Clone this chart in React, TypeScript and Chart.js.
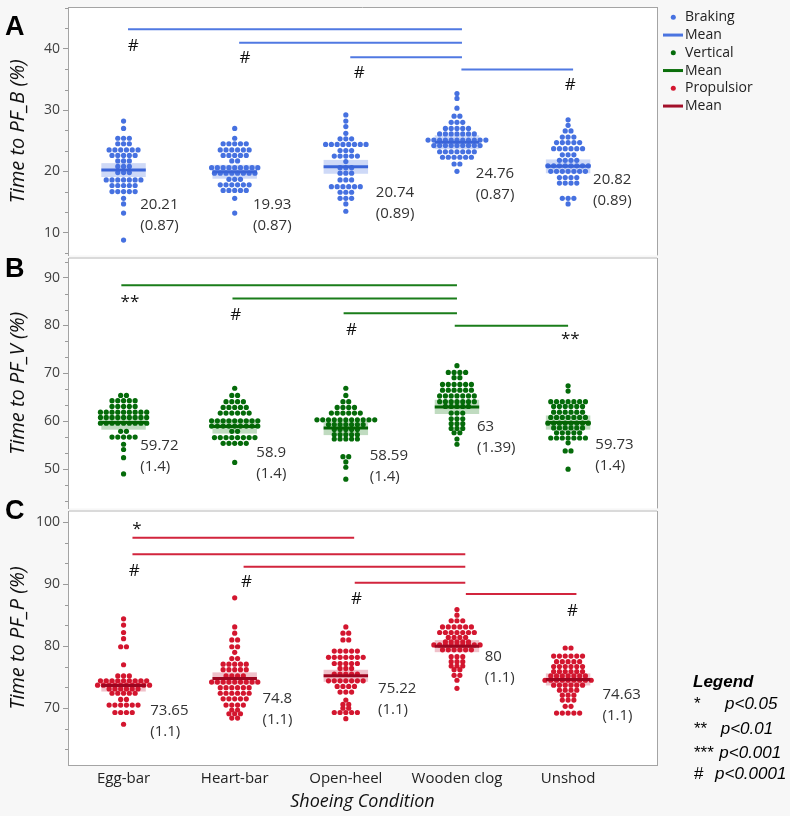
import React, { useEffect, useRef } from 'react';
import { Chart, registerables } from 'chart.js';

Chart.register(...registerables);

type Row = [number, number]; // [value, number of dots in that swarm row]
type Sig = [number, number, number]; // [from category, to category, bar level]
type Mark = [string, number, number]; // [symbol, x (category units), baseline value]

// ---------------- DATA ----------------
const categories = ['Egg-bar', 'Heart-bar', 'Open-heel', 'Wooden clog', 'Unshod'];

// Panel A – Braking: time to peak braking force (%)
const brakingRows: Row[][] = [
  [[28.2, 1], [27.0, 1], [25.4, 3], [24.5, 3], [23.5, 6], [22.6, 5], [21.7, 3], [20.8, 3], [19.8, 3], [18.6, 7], [17.7, 5], [16.7, 5], [15.6, 1], [14.7, 1], [13.2, 1], [8.8, 1]],
  [[27.0, 1], [25.4, 1], [24.5, 5], [23.5, 6], [22.6, 5], [21.7, 2], [20.6, 9], [19.7, 8], [18.7, 3], [17.8, 6], [16.9, 5], [15.6, 1], [13.2, 1]],
  [[29.2, 1], [28.2, 1], [27.3, 1], [26.2, 1], [25.3, 3], [24.4, 8], [23.4, 3], [22.5, 5], [21.6, 1], [20.6, 3], [19.7, 3], [18.6, 3], [17.5, 6], [16.6, 3], [15.6, 3], [14.7, 1], [13.5, 1]],
  [[32.7, 1], [31.9, 1], [30.3, 1], [29.0, 2], [28.0, 3], [27.0, 5], [26.1, 7], [25.1, 11], [24.2, 9], [23.2, 7], [22.3, 6], [21.2, 2], [20.0, 1]],
  [[28.4, 1], [27.5, 1], [26.6, 2], [25.6, 3], [24.7, 5], [23.7, 6], [22.7, 3], [21.8, 4], [20.9, 8], [20.0, 7], [19.0, 4], [18.1, 4], [15.6, 3], [14.7, 1]],
];
const brakingMean = [20.21, 19.93, 20.74, 24.76, 20.82];
const brakingSE = [0.87, 0.87, 0.89, 0.87, 0.89];
const brakingBand = 1.13;
const brakingSig: Sig[] = [[0, 3, 43.18], [1, 3, 40.97], [2, 3, 38.6], [3, 4, 36.6]];
const brakingMarks: Mark[] = [['#', 0.087, 39.56], ['#', 1.093, 37.69], ['#', 2.12, 35.16], ['#', 4.02, 33.27]];

// Panel B – Vertical
const verticalRows: Row[][] = [
  [[65.4, 2], [64.3, 5], [63.1, 5], [61.9, 9], [60.8, 9], [59.6, 9], [57.9, 2], [56.7, 5], [55.2, 1], [54.1, 1], [52.4, 1], [49.0, 1]],
  [[66.9, 1], [65.4, 2], [64.1, 4], [62.9, 5], [61.7, 6], [60.1, 9], [59.0, 9], [57.9, 2], [56.6, 8], [55.4, 5], [51.4, 1]],
  [[66.9, 1], [65.4, 1], [64.1, 2], [62.9, 4], [61.7, 6], [60.3, 11], [59.3, 7], [58.3, 5], [57.2, 5], [56.3, 5], [52.6, 2], [51.5, 1], [50.4, 1], [47.9, 1]],
  [[71.6, 1], [70.2, 4], [69.1, 2], [67.7, 6], [66.5, 6], [65.3, 7], [64.1, 7], [63.1, 5], [61.7, 3], [60.5, 3], [59.5, 3], [58.5, 3], [57.6, 2], [56.3, 1], [55.2, 1]],
  [[67.4, 1], [66.3, 1], [64.1, 7], [63.1, 6], [61.9, 6], [60.8, 7], [59.6, 8], [58.6, 6], [57.6, 5], [56.5, 7], [55.5, 1], [53.8, 2], [50.0, 1]],
];
const verticalMean = [59.72, 58.9, 58.59, 63, 59.73];
const verticalSE = [1.4, 1.4, 1.4, 1.39, 1.4];
const verticalBand = 1.48;
const verticalSig: Sig[] = [[0, 3, 88.43], [1, 3, 85.62], [2, 3, 82.58], [3, 4, 79.96]];
const verticalMarks: Mark[] = [['**', 0.057, 84.28], ['#', 1.01, 81.2], ['#', 2.05, 78.1], ['**', 4.02, 76.36]];

// Panel C – Propulsion
const propRows: Row[][] = [
  [[84.4, 1], [83.4, 1], [82.2, 1], [81.2, 1], [79.9, 2], [77.0, 1], [75.2, 3], [74.4, 9], [73.7, 10], [73.1, 6], [72.4, 5], [71.4, 2], [70.5, 6], [69.3, 4], [67.4, 1]],
  [[87.8, 1], [83.1, 1], [82.1, 1], [81.0, 2], [79.9, 2], [79.0, 1], [78.0, 2], [77.1, 5], [76.2, 5], [75.2, 4], [74.2, 9], [73.3, 6], [72.4, 6], [71.5, 5], [70.5, 4], [69.7, 2], [69.1, 3], [68.4, 2]],
  [[83.1, 1], [82.1, 2], [81.0, 2], [79.2, 5], [78.2, 7], [77.2, 5], [76.4, 3], [75.5, 5], [74.4, 7], [73.5, 4], [72.6, 3], [71.3, 1], [70.6, 2], [70.0, 2], [69.3, 5], [68.3, 1]],
  [[85.9, 1], [85.0, 1], [84.1, 3], [83.1, 6], [82.2, 7], [81.4, 4], [80.7, 5], [80.2, 9], [79.4, 6], [78.3, 3], [77.5, 3], [76.8, 3], [76.2, 2], [75.3, 2], [74.5, 1], [73.2, 1]],
  [[79.7, 2], [78.4, 6], [77.5, 5], [76.7, 6], [75.9, 6], [75.2, 7], [74.5, 9], [73.7, 6], [72.9, 4], [72.1, 3], [71.3, 3], [70.3, 2], [69.2, 5]],
];
const propMean = [73.65, 74.8, 75.22, 80, 74.63];
const propSE = [1.1, 1.1, 1.1, 1.1, 1.1];
const propBand = 0.97;
const propSig: Sig[] = [[0, 2, 97.49], [0, 3, 94.81], [1, 3, 92.81], [2, 3, 90.23], [3, 4, 88.41]];
const propMarks: Mark[] = [['*', 0.12, 98.33], ['#', 0.096, 91.31], ['#', 1.106, 89.49], ['#', 2.096, 86.8], ['#', 4.04, 84.9]];

const pLegend = [['*', 'p<0.05'], ['**', 'p<0.01'], ['***', 'p<0.001'], ['#', 'p<0.0001']];

// ---------------- LAYOUT / STYLE ----------------
const FONT = '"Open Sans", "Noto Sans", sans-serif';
const ARIAL = '"Liberation Sans", Arial, sans-serif';
const PAGE_BG = '#f7f7f7';
const FRAME = '#a4a4a4';
const SEP = '#dadada';
const DOT_STEP = 0.052;
const DOT_R = 2.6;
const MEAN_HALF = 0.2;

const panels: any[] = [
  {
    letter: 'A', title: 'Time to PF_B (%)', rows: brakingRows, mean: brakingMean, se: brakingSE, band: brakingBand,
    sig: brakingSig, marks: brakingMarks, yMin: 6.3, yMax: 46.8,
    dot: '#4671e0', bandColor: 'rgba(80,120,226,0.28)', meanColor: '#3a64d8', sigColor: '#5079e2',
    sigDx: [0.04, 0.045], labelDx: [0.15, 0.165, 0.27, 0.17, 0.225], labelY: [14.6, 14.6, 16.5, 19.6, 18.6],
  },
  {
    letter: 'B', title: 'Time to PF_V (%)', rows: verticalRows, mean: verticalMean, se: verticalSE, band: verticalBand,
    sig: verticalSig, marks: verticalMarks, yMin: 41.8, yMax: 94.1,
    dot: '#056b0a', bandColor: 'rgba(30,125,30,0.28)', meanColor: '#046404', sigColor: '#1a7d1a',
    sigDx: [-0.02, 0.0], labelDx: [0.15, 0.195, 0.215, 0.18, 0.245], labelY: [54.94, 53.4, 52.83, 58.82, 55.0],
  },
  {
    letter: 'C', title: 'Time to PF_P (%)', rows: propRows, mean: propMean, se: propSE, band: propBand,
    sig: propSig, marks: propMarks, yMin: 60.83, yMax: 101.8,
    dot: '#d3162f', bandColor: 'rgba(205,50,80,0.30)', meanColor: '#9c0620', sigColor: '#d2253d',
    sigDx: [0.08, 0.075], labelDx: [0.24, 0.25, 0.29, 0.25, 0.31], labelY: [69.65, 71.59, 73.2, 78.3, 72.12],
  },
];

const legendTop = [
  { kind: 'dot', color: '#4671e0', text: 'Braking' },
  { kind: 'line', color: '#4a74e0', text: 'Mean' },
  { kind: 'dot', color: '#056b0a', text: 'Vertical' },
  { kind: 'line', color: '#0a6e0a', text: 'Mean' },
  { kind: 'dot', color: '#d3162f', text: 'Propulsior' },
  { kind: 'line', color: '#a3102a', text: 'Mean' },
];

function drawTopLegend(ctx: CanvasRenderingContext2D) {
  ctx.font = `14px ${FONT}`;
  ctx.textAlign = 'left';
  ctx.textBaseline = 'middle';
  legendTop.forEach((it, i) => {
    const cy = 17.3 + i * 17.75;
    if (it.kind === 'dot') {
      ctx.fillStyle = it.color;
      ctx.beginPath();
      ctx.arc(673.3, cy, 2.5, 0, Math.PI * 2);
      ctx.fill();
    } else {
      ctx.strokeStyle = it.color;
      ctx.lineWidth = 3;
      ctx.beginPath();
      ctx.moveTo(663, cy);
      ctx.lineTo(683, cy);
      ctx.stroke();
    }
    ctx.fillStyle = '#222';
    ctx.fillText(it.text, 685, cy);
  });
}

function drawPLegend(ctx: CanvasRenderingContext2D, offsetTop: number) {
  ctx.fillStyle = '#000';
  ctx.textAlign = 'left';
  ctx.textBaseline = 'alphabetic';
  ctx.font = `italic bold 17px ${ARIAL}`;
  ctx.fillText('Legend', 693, 686.7 - offsetTop);
  const baselines = [709, 733.7, 757.7, 779.3];
  const textX = [725, 720.7, 719.3, 715];
  pLegend.forEach(([sym, txt], i) => {
    ctx.font = `17px ${ARIAL}`;
    ctx.fillText(sym, 694, baselines[i] - offsetTop);
    ctx.font = `italic 17px ${ARIAL}`;
    ctx.fillText(txt, textX[i], baselines[i] - offsetTop);
  });
}

const layouts: any[] = [
  { top: 0, height: 258, padTop: 7, padBottom: 0, showX: false, letterBaseline: 35, first: true, extra: (ctx: any) => drawTopLegend(ctx) },
  { top: 245, height: 266, padTop: 13, padBottom: 0, showX: false, letterBaseline: 32, first: false },
  { top: 495, height: 321, padTop: 16, padBottom: 3, showX: true, xHeight: 48, letterBaseline: 24, first: false, extra: (ctx: any) => drawPLegend(ctx, 495) },
];

function swarm(rows: Row[], idx: number) {
  const pts: { x: number; y: number }[] = [];
  rows.forEach(([v, n]) => {
    for (let j = 0; j < n; j++) pts.push({ x: idx + (j - (n - 1) / 2) * DOT_STEP, y: v });
  });
  return pts;
}

function makeChart(canvas: HTMLCanvasElement, p: any, L: any) {
  const datasets: any[] = [];
  const pts = p.rows.flatMap((rows: Row[], i: number) => swarm(rows, i));
  datasets.push({
    data: pts, backgroundColor: p.dot, borderColor: p.dot, borderWidth: 0,
    pointRadius: DOT_R, pointHoverRadius: DOT_R, showLine: false, order: 3,
  });
  p.sig.forEach(([a, b, lvl]: Sig) => {
    datasets.push({
      data: [{ x: a + p.sigDx[0], y: lvl }, { x: b + p.sigDx[1], y: lvl }],
      showLine: true, borderColor: p.sigColor, borderWidth: 2, pointRadius: 0, order: 2,
    });
  });
  p.mean.forEach((m: number, i: number) => {
    datasets.push({
      data: [{ x: i - MEAN_HALF, y: m }, { x: i + MEAN_HALF, y: m }],
      showLine: true, borderColor: p.meanColor, borderWidth: 3, pointRadius: 0, order: 1,
    });
  });

  const decor = {
    id: 'decor' + p.letter,
    beforeDraw(chart: any) {
      const { ctx, chartArea: a } = chart;
      ctx.save();
      ctx.fillStyle = '#ffffff';
      ctx.fillRect(a.left, a.top, a.right - a.left, a.bottom - a.top);
      ctx.restore();
    },
    beforeDatasetsDraw(chart: any) {
      const { ctx, scales } = chart;
      const x = scales.x, y = scales.y;
      ctx.save();
      ctx.fillStyle = p.bandColor;
      p.mean.forEach((m: number, i: number) => {
        const x1 = x.getPixelForValue(i - MEAN_HALF);
        const x2 = x.getPixelForValue(i + MEAN_HALF);
        const y1 = y.getPixelForValue(m + p.band);
        const y2 = y.getPixelForValue(m - p.band);
        ctx.fillRect(x1, y1, x2 - x1, y2 - y1);
      });
      ctx.restore();
    },
    afterDraw(chart: any) {
      const { ctx, chartArea: a, scales } = chart;
      const x = scales.x, y = scales.y;
      ctx.save();
      // frame
      ctx.strokeStyle = FRAME;
      ctx.lineWidth = 1;
      const rx = Math.round(a.right) + 0.5;
      ctx.beginPath();
      ctx.moveTo(rx, a.top);
      ctx.lineTo(rx, a.bottom);
      ctx.stroke();
      if (L.first) {
        const ty = Math.round(a.top) + 0.5;
        ctx.beginPath();
        ctx.moveTo(a.left, ty);
        ctx.lineTo(a.right, ty);
        ctx.stroke();
      } else {
        ctx.fillStyle = SEP;
        ctx.fillRect(a.left + 1, Math.round(a.top) - 1, a.right - a.left - 1, 2);
      }
      // minor ticks
      ctx.strokeStyle = '#9a9a9a';
      for (let k = Math.ceil((p.yMin * 3) / 10); k * 10 / 3 <= p.yMax; k++) {
        if (k % 3 === 0) continue;
        const py = Math.round(y.getPixelForValue((k * 10) / 3)) + 0.5;
        ctx.beginPath();
        ctx.moveTo(a.left - 3, py);
        ctx.lineTo(a.left, py);
        ctx.stroke();
      }
      // mean (SE) labels
      ctx.font = `15px ${FONT}`;
      ctx.fillStyle = '#333';
      ctx.textAlign = 'left';
      ctx.textBaseline = 'middle';
      p.mean.forEach((m: number, i: number) => {
        const px = x.getPixelForValue(i + p.labelDx[i]);
        const py = y.getPixelForValue(p.labelY[i]);
        ctx.fillText(String(m), px, py);
        ctx.fillText(`(${p.se[i]})`, px, py + 21);
      });
      // significance symbols
      ctx.font = `17px ${FONT}`;
      ctx.fillStyle = '#111';
      ctx.textAlign = 'center';
      ctx.textBaseline = 'alphabetic';
      p.marks.forEach(([t, xv, yv]: Mark) => {
        const off = t.startsWith('*') ? 1.5 : 0;
        ctx.fillText(t, x.getPixelForValue(xv), y.getPixelForValue(yv) + off);
      });
      // panel letter
      ctx.font = `bold 27px ${ARIAL}`;
      ctx.fillStyle = '#000';
      ctx.textAlign = 'left';
      ctx.fillText(p.letter, 5, L.letterBaseline);
      if (L.extra) L.extra(ctx);
      ctx.restore();
    },
  };

  return new Chart(canvas, {
    type: 'scatter',
    data: { datasets },
    options: {
      animation: false,
      responsive: false,
      maintainAspectRatio: false,
      events: [],
      layout: { padding: { left: 8, right: 133, top: L.padTop, bottom: L.padBottom } },
      plugins: { legend: { display: false }, tooltip: { enabled: false } },
      scales: {
        x: {
          type: 'linear',
          min: -0.5,
          max: 4.8,
          display: L.showX,
          grid: { display: false, drawTicks: false },
          border: { display: true, color: FRAME, width: 1 },
          ticks: {
            stepSize: 1, includeBounds: false, autoSkip: false, maxRotation: 0, minRotation: 0,
            padding: 5, font: { family: FONT, size: 15 }, color: '#222',
            callback: (v: any) => categories[v] ?? '',
          },
          title: {
            display: L.showX, text: 'Shoeing Condition',
            font: { family: FONT, size: 18, style: 'italic', lineHeight: 1.2 },
            color: '#111', padding: { top: 0, bottom: 0 },
          },
          afterFit: (s: any) => {
            s.height = L.showX ? L.xHeight : 0;
            s.paddingLeft = 0;
            s.paddingRight = 0;
          },
        },
        y: {
          type: 'linear',
          min: p.yMin,
          max: p.yMax,
          grid: { display: true, drawOnChartArea: false, drawTicks: true, tickLength: 5, tickColor: '#9a9a9a', tickWidth: 1 },
          border: { display: true, color: FRAME, width: 1 },
          ticks: { stepSize: 10, includeBounds: false, padding: 3, font: { family: FONT, size: 14 }, color: '#404040' },
          title: {
            display: true, text: p.title,
            font: { family: FONT, size: 20, style: 'italic', lineHeight: 1 },
            color: '#111', padding: 0,
          },
          afterFit: (s: any) => {
            s.width = 60;
            s.paddingTop = 0;
            s.paddingBottom = 0;
          },
        },
      },
    } as any,
    plugins: [decor as any],
  });
}

export default function App() {
  const refA = useRef<HTMLCanvasElement>(null);
  const refB = useRef<HTMLCanvasElement>(null);
  const refC = useRef<HTMLCanvasElement>(null);

  useEffect(() => {
    const refs = [refA, refB, refC];
    const charts = refs.map((r, i) => makeChart(r.current as HTMLCanvasElement, panels[i], layouts[i]));
    return () => charts.forEach((c) => c.destroy());
  }, []);

  const canvasStyle = (i: number): React.CSSProperties => ({
    position: 'absolute', left: 0, top: layouts[i].top, width: 790, height: layouts[i].height, display: 'block',
  });

  return (
    <div style={{ position: 'absolute', left: 0, top: 0, width: 790, height: 816, background: PAGE_BG, overflow: 'hidden' }}>
      <canvas ref={refA} width={790} height={layouts[0].height} style={canvasStyle(0)} />
      <canvas ref={refB} width={790} height={layouts[1].height} style={canvasStyle(1)} />
      <canvas ref={refC} width={790} height={layouts[2].height} style={canvasStyle(2)} />
    </div>
  );
}
